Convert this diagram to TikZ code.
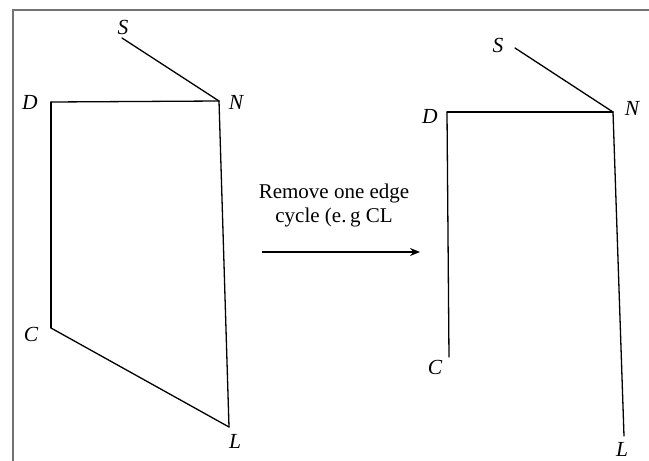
\documentclass[tikz,border=0pt]{standalone}
\usepackage{fontspec}
\setmainfont{Liberation Serif}
\usetikzlibrary{arrows.meta}
\begin{document}
\begin{tikzpicture}[x=1pt,y=-1pt,
  edge/.style={line width=1.3pt, black, line cap=round, line join=miter},
  lbl/.style={inner sep=0pt, font=\fontsize{21.5}{21.5}\selectfont\itshape},
  frameline/.style={line width=1.3pt, black!55},
  caption/.style={inner sep=0pt, align=center, font=\fontsize{21}{24}\selectfont}]
\useasboundingbox (0,0) rectangle (649,461);
\fill[white] (0,0) rectangle (649,461);
% frame
\coordinate (fb) at (13,461);
\coordinate (fc) at (13,10);
\coordinate (fr) at (649,10);
\draw[frameline] (fb) -- (fc) -- (fr);
% left graph
\coordinate (S1) at (122,38);
\coordinate (N1) at (219,101);
\coordinate (D1) at (51,102);
\coordinate (C1) at (51,328);
\coordinate (L1) at (229,427);
\draw[edge] (S1) -- (N1);
\draw[edge] (D1) -- (N1);
\draw[edge] (D1) -- (C1);
\draw[edge] (C1) -- (L1);
\draw[edge] (N1) -- (L1);
\node[lbl] (s1) at (123,27.5) {S};
\node[lbl] (n1) at (236,102) {N};
\node[lbl] (d1) at (30,102.5) {D};
\node[lbl] (c1) at (31,334) {C};
\node[lbl] (l1) at (235,441) {L};
% right graph
\coordinate (S2) at (515,48);
\coordinate (N2) at (613,112);
\coordinate (D2) at (447,112);
\coordinate (C2) at (449,357);
\coordinate (L2) at (624,436);
\draw[edge] (S2) -- (N2);
\draw[edge] (D2) -- (N2);
\draw[edge] (D2) -- (C2);
\draw[edge] (N2) -- (L2);
\node[lbl] (s2) at (498,45) {S};
\node[lbl] (n2) at (632,108) {N};
\node[lbl] (d2) at (430,116) {D};
\node[lbl] (c2) at (435,367) {C};
\node[lbl] (l2) at (622,449) {L};
% caption and arrow
\node[caption] (cap) at (334,205) {Remove one edge\\cycle (e.\,g CL};
\coordinate (a0) at (262,252);
\coordinate (a1) at (420,252);
\draw[line width=1.3pt, -{Stealth[length=10pt,width=8pt]}] (a0) -- (a1);
\end{tikzpicture}
\end{document}
